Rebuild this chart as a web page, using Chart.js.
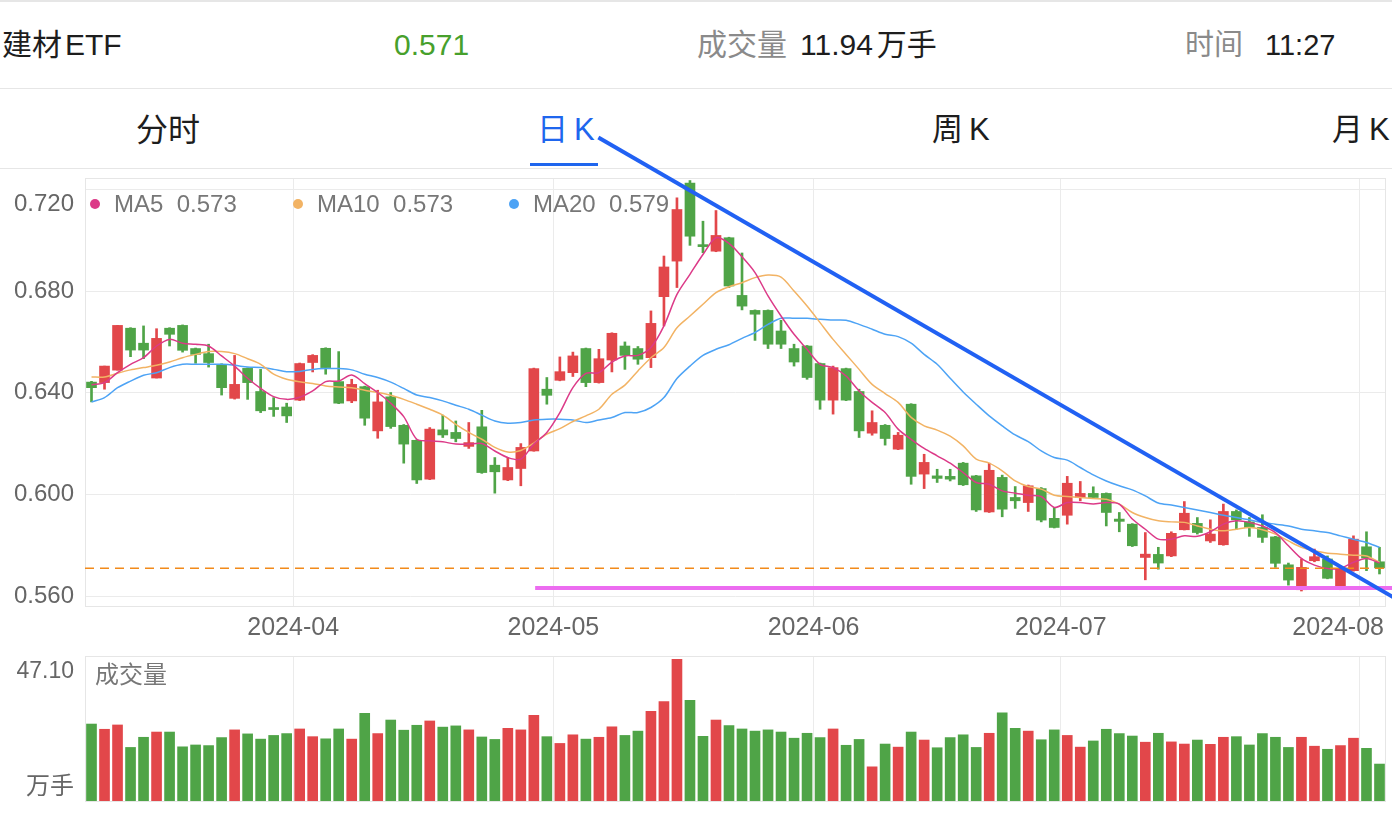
<!DOCTYPE html>
<html>
<head>
<meta charset="utf-8">
<script src="https://cdn.jsdelivr.net/npm/chart.js@4.4.1/dist/chart.umd.min.js"></script>
<style>
  html, body { margin: 0; padding: 0; background: #fff; }
  body { width: 1392px; height: 816px; overflow: hidden; font-family: "Liberation Sans", "Noto Sans CJK SC", sans-serif; }
  #wrap { position: relative; width: 1392px; height: 816px; }
  .t { position: absolute; white-space: nowrap; height: 40px; line-height: 40px; }
  .rule { position: absolute; left: 0; width: 1392px; height: 1px; background: #e6e6e6; }
  canvas { position: absolute; left: 0; }
</style>
</head>
<body>
<div id="wrap">
  <div class="rule" style="top:0;height:2px"></div>
  <div class="t" style="left:2px;top:25px;font-size:30px;color:#1d1d1d">建材<span style="margin-left:3px">ETF</span></div>
  <div class="t" style="left:394px;top:25px;font-size:30px;color:#47a02c">0.571</div>
  <div class="t" style="left:697px;top:25px;font-size:30px;color:#8a8a8a">成交量</div>
  <div class="t" style="left:800px;top:25px;font-size:30px;color:#1d1d1d">11.94<span style="margin-left:4px">万手</span></div>
  <div class="t" style="left:1185px;top:25px;font-size:29px;color:#8a8a8a">时间</div>
  <div class="t" style="left:1265px;top:25px;font-size:29px;color:#1d1d1d">11:27</div>
  <div class="rule" style="top:88px"></div>
  <div class="t" style="left:136px;top:110px;font-size:32px;color:#1d1d1d">分时</div>
  <div class="t" style="left:537px;top:110px;font-size:31px;color:#1f66ee">日<span style="margin-left:6px">K</span></div>
  <div class="t" style="left:932px;top:110px;font-size:31px;color:#1d1d1d">周<span style="margin-left:6px">K</span></div>
  <div class="t" style="left:1332px;top:110px;font-size:31px;color:#1d1d1d">月<span style="margin-left:6px">K</span></div>
  <div style="position:absolute;left:530px;top:163px;width:68px;height:3px;background:#1f66ee"></div>
  <div class="rule" style="top:168px"></div>
  <canvas id="price" width="1392" height="650" style="top:0"></canvas>
  <canvas id="vol" width="1392" height="160" style="top:650px"></canvas>
</div>
<script>
// trading days shown
const dates = [
  '2024-03-08','2024-03-11','2024-03-12','2024-03-13','2024-03-14','2024-03-15','2024-03-18','2024-03-19','2024-03-20','2024-03-21',
  '2024-03-22','2024-03-25','2024-03-26','2024-03-27','2024-03-28','2024-03-29','2024-04-01','2024-04-02','2024-04-03','2024-04-08',
  '2024-04-09','2024-04-10','2024-04-11','2024-04-12','2024-04-15','2024-04-16','2024-04-17','2024-04-18','2024-04-19','2024-04-22',
  '2024-04-23','2024-04-24','2024-04-25','2024-04-26','2024-04-29','2024-04-30','2024-05-06','2024-05-07','2024-05-08','2024-05-09',
  '2024-05-10','2024-05-13','2024-05-14','2024-05-15','2024-05-16','2024-05-17','2024-05-20','2024-05-21','2024-05-22','2024-05-23',
  '2024-05-24','2024-05-27','2024-05-28','2024-05-29','2024-05-30','2024-05-31','2024-06-03','2024-06-04','2024-06-05','2024-06-06',
  '2024-06-07','2024-06-11','2024-06-12','2024-06-13','2024-06-14','2024-06-17','2024-06-18','2024-06-19','2024-06-20','2024-06-21',
  '2024-06-24','2024-06-25','2024-06-26','2024-06-27','2024-06-28','2024-07-01','2024-07-02','2024-07-03','2024-07-04','2024-07-05',
  '2024-07-08','2024-07-09','2024-07-10','2024-07-11','2024-07-12','2024-07-15','2024-07-16','2024-07-17','2024-07-18','2024-07-19',
  '2024-07-22','2024-07-23','2024-07-24','2024-07-25','2024-07-26','2024-07-29','2024-07-30','2024-07-31','2024-08-01','2024-08-02'
];

const open = [
  0.6442,0.6440,0.6489,0.6654,0.6595,0.6458,0.6654,0.6665,0.6574,0.6554,
  0.6512,0.6378,0.6496,0.6405,0.6336,0.6344,0.6371,0.6519,0.6575,0.6444,
  0.6368,0.6424,0.6250,0.6384,0.6272,0.6213,0.6060,0.6254,0.6244,0.6189,
  0.6266,0.6115,0.6057,0.6102,0.6171,0.6414,0.6449,0.6479,0.6574,0.6440,
  0.6529,0.6584,0.6574,0.6538,0.6778,0.6918,0.7225,0.6980,0.6957,0.7010,
  0.6783,0.6724,0.6724,0.6643,0.6574,0.6584,0.6515,0.6371,0.6495,0.6405,
  0.6241,0.6272,0.6178,0.6355,0.6080,0.6073,0.6071,0.6123,0.6073,0.5931,
  0.6067,0.5988,0.5968,0.6023,0.5906,0.5918,0.5988,0.6004,0.6004,0.5903,
  0.5883,0.5752,0.5764,0.5758,0.5861,0.5886,0.5817,0.5802,0.5933,0.5892,
  0.5870,0.5833,0.5723,0.5625,0.5739,0.5746,0.5628,0.5700,0.5794,0.5735
];
const high = [
  0.6445,0.6505,0.6665,0.6656,0.6663,0.6652,0.6656,0.6667,0.6576,0.6591,
  0.6514,0.6547,0.6498,0.6492,0.6381,0.6359,0.6517,0.6550,0.6577,0.6562,
  0.6453,0.6426,0.6410,0.6401,0.6275,0.6215,0.6263,0.6312,0.6289,0.6283,
  0.6331,0.6145,0.6145,0.6200,0.6497,0.6460,0.6541,0.6560,0.6576,0.6571,
  0.6636,0.6600,0.6582,0.6722,0.6938,0.7167,0.7235,0.7075,0.7117,0.7012,
  0.6950,0.6726,0.6726,0.6685,0.6591,0.6586,0.6517,0.6505,0.6497,0.6414,
  0.6329,0.6275,0.6244,0.6357,0.6158,0.6099,0.6099,0.6126,0.6075,0.6123,
  0.6076,0.6031,0.6037,0.6027,0.5949,0.6071,0.6051,0.6030,0.6006,0.5929,
  0.5885,0.5850,0.5792,0.5853,0.5972,0.5909,0.5900,0.5962,0.5939,0.5909,
  0.5920,0.5835,0.5730,0.5746,0.5785,0.5758,0.5710,0.5837,0.5853,0.5792
];
const low = [
  0.6364,0.6414,0.6489,0.6542,0.6534,0.6458,0.6584,0.6560,0.6516,0.6501,
  0.6391,0.6375,0.6374,0.6322,0.6307,0.6283,0.6369,0.6482,0.6473,0.6357,
  0.6361,0.6272,0.6221,0.6260,0.6123,0.6043,0.6058,0.6224,0.6207,0.6181,
  0.6083,0.6005,0.6054,0.6034,0.6170,0.6355,0.6447,0.6464,0.6424,0.6438,
  0.6482,0.6492,0.6512,0.6499,0.6663,0.6814,0.6980,0.6951,0.6955,0.6814,
  0.6726,0.6606,0.6574,0.6574,0.6505,0.6453,0.6335,0.6316,0.6369,0.6224,
  0.6233,0.6194,0.6176,0.6040,0.6023,0.6047,0.6053,0.6035,0.5933,0.5929,
  0.5912,0.5945,0.5933,0.5892,0.5868,0.5883,0.5975,0.5985,0.5876,0.5853,
  0.5795,0.5664,0.5706,0.5755,0.5860,0.5844,0.5811,0.5800,0.5863,0.5835,
  0.5811,0.5713,0.5643,0.5620,0.5735,0.5668,0.5625,0.5698,0.5700,0.5687
];
const close = [
  0.6420,0.6505,0.6665,0.6568,0.6568,0.6614,0.6630,0.6567,0.6551,0.6519,
  0.6420,0.6433,0.6440,0.6329,0.6334,0.6309,0.6515,0.6547,0.6499,0.6359,
  0.6433,0.6300,0.6364,0.6267,0.6198,0.6057,0.6257,0.6234,0.6220,0.6204,
  0.6086,0.6089,0.6106,0.6185,0.6495,0.6390,0.6483,0.6545,0.6440,0.6534,
  0.6634,0.6547,0.6532,0.6673,0.6895,0.7121,0.7016,0.6975,0.7019,0.6820,
  0.6741,0.6709,0.6591,0.6591,0.6521,0.6460,0.6371,0.6499,0.6371,0.6250,
  0.6283,0.6220,0.6233,0.6071,0.6126,0.6063,0.6060,0.6038,0.5939,0.6095,
  0.5942,0.5975,0.6034,0.5899,0.5870,0.6044,0.6004,0.5988,0.5929,0.5894,
  0.5798,0.5765,0.5730,0.5847,0.5926,0.5850,0.5844,0.5933,0.5900,0.5870,
  0.5831,0.5729,0.5663,0.5713,0.5755,0.5670,0.5706,0.5824,0.5750,0.5711
];

const ma5 = [
  0.6431,0.6440,0.6479,0.6512,0.6538,0.6584,0.6610,0.6595,0.6591,0.6584,
  0.6545,0.6505,0.6457,0.6417,0.6385,0.6374,0.6382,0.6407,0.6444,0.6446,
  0.6470,0.6436,0.6401,0.6359,0.6306,0.6217,0.6211,0.6207,0.6198,0.6198,
  0.6200,0.6171,0.6145,0.6139,0.6198,0.6244,0.6322,0.6420,0.6476,0.6479,
  0.6521,0.6545,0.6547,0.6578,0.6663,0.6787,0.6866,0.6944,0.7010,0.6988,
  0.6935,0.6873,0.6781,0.6702,0.6630,0.6571,0.6512,0.6499,0.6466,0.6407,
  0.6362,0.6322,0.6257,0.6217,0.6181,0.6152,0.6123,0.6086,0.6047,0.6040,
  0.6014,0.6005,0.5997,0.5992,0.5949,0.5968,0.5968,0.5962,0.5968,0.5962,
  0.5903,0.5863,0.5824,0.5824,0.5837,0.5835,0.5853,0.5883,0.5896,0.5890,
  0.5876,0.5850,0.5798,0.5748,0.5722,0.5709,0.5709,0.5733,0.5748,0.5730
];
const ma10 = [
  0.6462,0.6462,0.6477,0.6490,0.6499,0.6508,0.6521,0.6538,0.6551,0.6562,
  0.6562,0.6554,0.6534,0.6512,0.6473,0.6453,0.6443,0.6436,0.6427,0.6423,
  0.6420,0.6410,0.6401,0.6390,0.6374,0.6355,0.6335,0.6312,0.6276,0.6244,
  0.6217,0.6185,0.6167,0.6173,0.6202,0.6237,0.6259,0.6287,0.6309,0.6335,
  0.6394,0.6430,0.6486,0.6538,0.6578,0.6656,0.6702,0.6748,0.6794,0.6817,
  0.6833,0.6853,0.6863,0.6855,0.6800,0.6741,0.6676,0.6610,0.6551,0.6492,
  0.6433,0.6397,0.6362,0.6303,0.6270,0.6253,0.6229,0.6191,0.6139,0.6123,
  0.6093,0.6053,0.6031,0.6021,0.5997,0.5992,0.5988,0.5984,0.5981,0.5962,
  0.5929,0.5909,0.5896,0.5892,0.5890,0.5876,0.5863,0.5857,0.5863,0.5870,
  0.5861,0.5844,0.5817,0.5792,0.5778,0.5769,0.5765,0.5761,0.5758,0.5733
];
const ma20 = [
  0.6364,0.6381,0.6420,0.6446,0.6469,0.6479,0.6499,0.6512,0.6512,0.6512,
  0.6512,0.6508,0.6501,0.6499,0.6492,0.6483,0.6484,0.6492,0.6495,0.6495,
  0.6490,0.6473,0.6460,0.6442,0.6417,0.6391,0.6381,0.6368,0.6351,0.6335,
  0.6312,0.6289,0.6280,0.6283,0.6293,0.6296,0.6296,0.6293,0.6283,0.6293,
  0.6303,0.6322,0.6322,0.6342,0.6381,0.6456,0.6505,0.6547,0.6571,0.6589,
  0.6614,0.6637,0.6669,0.6693,0.6693,0.6693,0.6689,0.6686,0.6685,0.6669,
  0.6650,0.6630,0.6621,0.6595,0.6551,0.6512,0.6457,0.6403,0.6355,0.6309,
  0.6270,0.6234,0.6208,0.6171,0.6145,0.6135,0.6106,0.6077,0.6053,0.6034,
  0.6018,0.5994,0.5966,0.5958,0.5949,0.5939,0.5929,0.5918,0.5909,0.5900,
  0.5890,0.5883,0.5876,0.5863,0.5857,0.5850,0.5837,0.5824,0.5811,0.5792
];

// 成交量, 万手
const volume = [
  25.0,23.3,24.7,17.4,20.7,22.4,22.4,17.6,18.2,18.0,
  20.6,23.1,21.8,20.1,21.3,21.9,23.4,20.9,20.2,23.4,
  20.1,28.5,21.9,26.3,23.0,24.6,26.0,24.0,24.4,23.1,
  20.8,20.0,23.6,23.1,27.8,20.9,18.7,21.5,20.1,20.7,
  24.1,21.3,22.7,29.1,32.3,46.0,32.7,21.0,26.3,24.5,
  23.4,22.7,23.1,22.4,20.4,22.0,20.6,23.4,18.1,20.0,
  11.1,18.5,17.5,22.4,19.8,17.3,20.6,21.5,17.4,22.0,
  28.6,23.6,22.7,19.9,23.1,21.3,17.5,19.5,23.3,21.9,
  21.1,19.1,22.0,19.2,18.5,19.8,18.4,20.7,20.9,18.2,
  21.9,20.7,17.4,20.7,17.8,16.8,18.0,20.4,17.1,12.0
];

const priceTicks = [0.56, 0.60, 0.64, 0.68, 0.72];
const priceMin = 0.5561, priceMax = 0.7245;
const volMax = 47.10;
const lastPrice = 0.571;

// hand-drawn lines on the chart (candle index, price)
const trendX = [38.96, 100.05], trendY = [0.7404, 0.5596];
const supportX = [34.1, 100.05], supportY = [0.5632, 0.5632];

const FONT = '"Liberation Sans", "Noto Sans CJK SC", sans-serif';
const RED = '#e2474a', GREEN = '#4fa447';
const C_MA5 = '#dc3a88', C_MA10 = '#f2b364', C_MA20 = '#4da3f5';

Chart.defaults.font.family = FONT;

const idx = dates.map((d, i) => i);
const candleColor = idx.map(i => close[i] > open[i] ? RED : GREEN);

const monthTicks = [];
dates.forEach((d, i) => {
  if (i > 0 && d.slice(0, 7) !== dates[i - 1].slice(0, 7)) monthTicks.push({ value: i - 0.5, label: d.slice(0, 7) });
});
const xMin = -0.5, xMax = dates.length - 0.5;

function pts(xs, ys) { return xs.map((x, k) => ({ x: x, y: ys[k] })); }
function maLine(arr, color) {
  return { type: 'line', data: idx.map(i => ({ x: i, y: arr[i] })), borderColor: color, borderWidth: 1.5,
           pointRadius: 0, tension: 0.3, order: 2 };
}
function monthAxis() {
  return {
    type: 'linear', min: xMin, max: xMax, offset: false,
    afterBuildTicks: s => { s.ticks = monthTicks.map(m => ({ value: m.value })); },
    grid: { color: '#ebebeb', drawTicks: false, offset: false },
    border: { display: false },
    ticks: { display: false }
  };
}

const frame = {
  id: 'frame',
  beforeDatasetsDraw(chart) {
    const a = chart.chartArea, ctx = chart.ctx;
    ctx.save();
    ctx.strokeStyle = '#e6e6e6';
    ctx.lineWidth = 1;
    ctx.strokeRect(a.left + 0.5, a.top + 0.5, a.right - a.left - 1, a.bottom - a.top);
    ctx.restore();
  }
};

const priceLabels = {
  id: 'priceLabels',
  afterDraw(chart) {
    const ctx = chart.ctx, y = chart.scales.y, x = chart.scales.x, a = chart.chartArea;
    ctx.save();
    ctx.font = '24px ' + FONT;
    ctx.fillStyle = '#666';
    ctx.textAlign = 'right';
    ctx.textBaseline = 'middle';
    priceTicks.forEach(v => {
      let py = y.getPixelForValue(v);
      if (py - a.top < 16) py += 15;
      ctx.fillText(v.toFixed(3), 74, py);
    });
    // month labels, kept inside the plot width
    ctx.textAlign = 'center';
    ctx.font = '25px ' + FONT;
    monthTicks.forEach(m => {
      const half = ctx.measureText(m.label).width / 2;
      let px = x.getPixelForValue(m.value);
      px = Math.min(px, a.right - half - 2);
      ctx.fillText(m.label, px, a.bottom + 22);
    });
    // MA legend
    const items = [['MA5', ma5, C_MA5, 95], ['MA10', ma10, C_MA10, 298], ['MA20', ma20, C_MA20, 514]];
    ctx.textAlign = 'left';
    ctx.font = '24px ' + FONT;
    items.forEach(([name, arr, col, px]) => {
      ctx.fillStyle = col;
      ctx.beginPath(); ctx.arc(px, 204, 5, 0, Math.PI * 2); ctx.fill();
      ctx.fillStyle = '#777';
      ctx.fillText(name + '  ' + arr[arr.length - 1].toFixed(3), px + 19, 205);
    });
    ctx.restore();
  }
};

const priceX = monthAxis();
priceX.afterFit = s => { s.height = 44; };

new Chart(document.getElementById('price'), {
  type: 'bar',
  data: {
    datasets: [
      { type: 'line', data: pts(trendX, trendY), borderColor: '#2161f3', borderWidth: 4, pointRadius: 0, clip: false, order: 0 },
      { type: 'line', data: pts(supportX, supportY), borderColor: '#ec6cf0', borderWidth: 4, pointRadius: 0, clip: false, order: 0 },
      { type: 'line', data: pts([xMin, xMax], [lastPrice, lastPrice]), borderColor: '#f28a1a', borderWidth: 1.5,
        borderDash: [9, 6], pointRadius: 0, order: 1 },
      maLine(ma5, C_MA5),
      maLine(ma10, C_MA10),
      maLine(ma20, C_MA20),
      { type: 'bar', data: idx.map(i => ({ x: i, y: [open[i], close[i]] })), backgroundColor: candleColor,
        barThickness: 10, minBarLength: 2, grouped: false, order: 3 },
      { type: 'bar', data: idx.map(i => ({ x: i, y: [low[i], high[i]] })), backgroundColor: candleColor,
        barThickness: 2, minBarLength: 1, grouped: false, order: 4 }
    ]
  },
  options: {
    responsive: false,
    animation: false,
    devicePixelRatio: 1,
    layout: { padding: { top: 178, right: 6, bottom: 0, left: 0 } },
    plugins: { legend: { display: false }, tooltip: { enabled: false } },
    scales: {
      x: priceX,
      y: {
        min: priceMin, max: priceMax,
        afterBuildTicks: s => { s.ticks = priceTicks.map(v => ({ value: v })); },
        afterFit: s => { s.width = 85; },
        grid: { color: '#ebebeb', drawTicks: false },
        border: { display: false },
        ticks: { display: false }
      }
    }
  },
  plugins: [frame, priceLabels]
});

const volLabels = {
  id: 'volLabels',
  afterDraw(chart) {
    const ctx = chart.ctx;
    ctx.save();
    ctx.font = '23px ' + FONT;
    ctx.fillStyle = '#666';
    ctx.textAlign = 'right';
    ctx.textBaseline = 'middle';
    ctx.fillText(volMax.toFixed(2), 74, 22);
    ctx.font = '24px ' + FONT;
    ctx.fillText('万手', 74, 137);
    ctx.textAlign = 'left';
    ctx.fillStyle = '#777';
    ctx.fillText('成交量', 95, 26);
    ctx.restore();
  }
};

const volX = monthAxis();
volX.afterFit = s => { s.height = 0; };

new Chart(document.getElementById('vol'), {
  type: 'bar',
  data: {
    datasets: [
      { data: idx.map(i => ({ x: i, y: volume[i] })), backgroundColor: candleColor, barThickness: 10, grouped: false }
    ]
  },
  options: {
    responsive: false,
    animation: false,
    devicePixelRatio: 1,
    layout: { padding: { top: 6, right: 6, bottom: 9, left: 0 } },
    plugins: { legend: { display: false }, tooltip: { enabled: false } },
    scales: {
      x: volX,
      y: {
        min: 0, max: volMax,
        afterFit: s => { s.width = 85; },
        grid: { display: false },
        border: { display: false },
        ticks: { display: false }
      }
    }
  },
  plugins: [frame, volLabels]
});
</script>
</body>
</html>
